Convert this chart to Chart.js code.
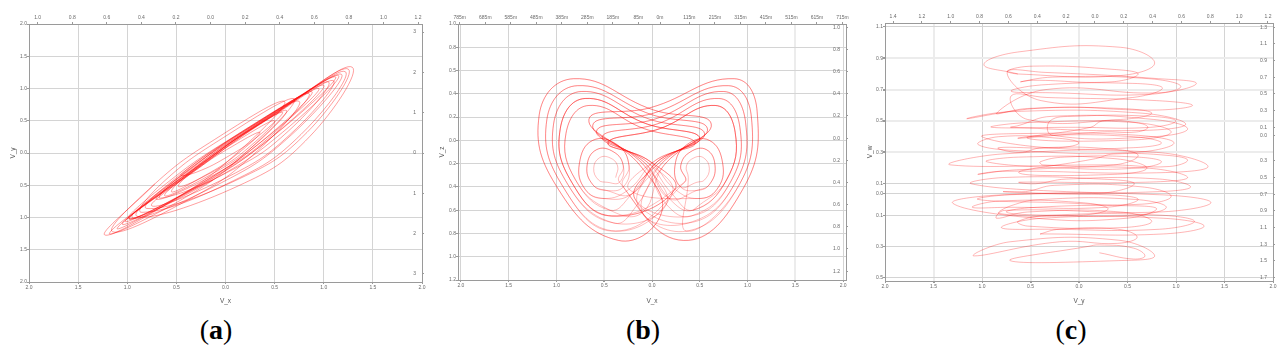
<!DOCTYPE html>
<html lang="en">
<head>
    <meta charset="UTF-8">
    <title>Phase portraits</title>
    <script src="https://cdn.jsdelivr.net/npm/chart.js@4.4.1/dist/chart.umd.min.js"></script>
    <style>
        body {
            margin: 0;
            width: 1288px;
            height: 358px;
            overflow: hidden;
            position: relative;
            background: #fff;
        }
        canvas.panel {
            position: absolute;
            top: 0;
        }
        .cap {
            position: absolute;
            top: 314px;
            width: 80px;
            text-align: center;
            font-family: "Liberation Serif", "DejaVu Serif", serif;
            font-size: 28px;
            line-height: 32px;
            color: #000;
        }
    </style>
</head>
<body>
    <canvas id="chartA" class="panel" width="430" height="305" style="left:0px"></canvas>
    <canvas id="chartB" class="panel" width="430" height="305" style="left:430px"></canvas>
    <canvas id="chartC" class="panel" width="428" height="305" style="left:860px"></canvas>
    <div class="cap" style="left:176px">(<b>a</b>)</div>
    <div class="cap" style="left:603px">(<b>b</b>)</div>
    <div class="cap" style="left:1031px">(<b>c</b>)</div>

    <script>
        // ---- panel (a): V_x vs V_y, long thin loops along the diagonal ----
        const trajA = [
            [-0.72,-0.48],
            [-1.23,-1.27],[-0.50,-0.70],[0.11,-0.01],[0.60,0.80],[-0.11,0.21],[-0.72,-0.48],
            [-1.15,-1.22],[-0.36,-0.71],[0.28,-0.03],[0.75,0.80],[0.04,0.21],[-0.60,-0.47],
            [-0.98,-1.02],[-0.13,-0.42],[0.58,0.32],[1.15,1.20],[0.38,0.52],[-0.33,-0.22],
            [-0.90,-0.98],[0.13,-0.51],[0.86,0.26],[1.29,1.33],[0.51,0.61],[-0.22,-0.16],
            [-1.18,-1.24],[-0.41,-0.69],[0.21,0.01],[0.70,0.84],[-0.02,0.24],[-0.64,-0.46],
            [-0.85,-0.92],[0.08,-0.43],[0.77,0.29],[1.22,1.26],[0.48,0.58],[-0.21,-0.14],
            [-0.48,-0.52],[-0.08,-0.25],[0.24,0.09],[0.50,0.50],[0.13,0.20],[-0.19,-0.14],
            [-0.75,-0.82],[0.05,-0.35],[0.66,0.29],[1.10,1.12],[0.43,0.52],[-0.18,-0.12],
            [-1.05,-1.10],[-0.25,-0.50],[0.44,0.21],[1.00,1.05],[0.25,0.40],[-0.44,-0.31],
            [-0.80,-0.86],[0.14,-0.40],[0.83,0.32],[1.25,1.30],[0.52,0.63],[-0.17,-0.09],
            [-0.62,-0.66],[-0.12,-0.31],[0.30,0.13],[0.62,0.66],[0.16,0.27],[-0.26,-0.17],
            [-0.55,-0.60],[-0.20,-0.34],[0.10,-0.04],[0.35,0.32],[0.01,0.05],[-0.29,-0.25],
            [-1.02,-1.06],[-0.28,-0.50],[0.36,0.17],[0.88,0.95],[0.19,0.34],[-0.45,-0.33],
            [-0.30,-0.30],[0.04,-0.04],[0.34,0.27],[0.58,0.63],[0.25,0.36],[-0.05,0.05],
            [-1.10,-1.16],[-0.32,-0.54],[0.37,0.18],[0.95,1.00],[0.21,0.34],[-0.48,-0.38],
            [-0.66,-0.70],[0.07,-0.26],[0.64,0.34],[1.05,1.10],[0.43,0.55],[-0.14,-0.05],
            [-0.98,-1.02],[-0.16,-0.41],[0.54,0.33],[1.12,1.18],[0.37,0.50],[-0.33,-0.24],
            [-0.70,-0.72],[-0.06,-0.29],[0.45,0.25],[0.85,0.92],[0.27,0.43],[-0.24,-0.11],
            [-0.95,-1.00],[-0.04,-0.46],[0.67,0.28],[1.18,1.22],[0.42,0.53],[-0.29,-0.21],
            [-0.98,-1.02],[-0.13,-0.42]
        ];
        const bottomTicksA = [-2, -1.5, -1, -0.5, 0, 0.5, 1, 1.5, 2];
        const bottomLabelsA = ['2.0','1.5','1.0','0.5','0.0','0.5','1.0','1.5','2.0'];
        const leftTicksA = [2, 1.5, 1, 0.5, 0, -0.5, -1, -1.5, -2];
        const leftLabelsA = ['2.0','1.5','1.0','0.5','0.0','0.5','1.0','1.5','2.0'];
        const topTicksA = [-1, -0.8, -0.6, -0.4, -0.2, 0, 0.2, 0.4, 0.6, 0.8, 1, 1.2];
        const topLabelsA = ['1.0','0.8','0.6','0.4','0.2','0.0','0.2','0.4','0.6','0.8','1.0','1.2'];
        const rightTicksA = [3, 2, 1, 0, -1, -2, -3];
        const rightLabelsA = ['3','2','1','0','1','2','3'];

        // ---- panel (b): V_x vs V_z ----
        // big turns: inner bottom, thin arm across the middle to a tip on the far side,
        // back over the top, down the outside, along the bottom
        const armL1 = [[-0.10,-0.62],[0.12,-0.22],[0.62,0.14],[0.02,0.26],[-0.82,0.53],[-1.18,0.22],[-0.98,-0.42],[-0.35,-0.86]];
        const armL2 = [[-0.15,-0.55],[0.10,-0.20],[0.58,0.10],[0.00,0.22],[-0.78,0.47],[-1.10,0.18],[-0.93,-0.40],[-0.38,-0.78]];
        const armL3 = [[-0.18,-0.50],[0.08,-0.19],[0.55,0.06],[-0.02,0.18],[-0.74,0.42],[-1.03,0.14],[-0.88,-0.38],[-0.40,-0.71]];
        const armL4 = [[-0.21,-0.46],[0.06,-0.18],[0.50,0.02],[-0.05,0.14],[-0.70,0.36],[-0.96,0.10],[-0.84,-0.36],[-0.42,-0.65]];
        const armL5 = [[-0.24,-0.42],[0.04,-0.17],[0.45,-0.02],[-0.08,0.10],[-0.66,0.30],[-0.90,0.06],[-0.80,-0.34],[-0.44,-0.60]];
        const armR1 = [[0.10,-0.62],[-0.12,-0.22],[-0.66,0.18],[-0.02,0.28],[0.86,0.53],[1.10,0.25],[0.95,-0.42],[0.33,-0.86]];
        const armR2 = [[0.15,-0.55],[-0.10,-0.20],[-0.62,0.13],[0.00,0.23],[0.80,0.47],[1.04,0.20],[0.90,-0.40],[0.36,-0.78]];
        const armR3 = [[0.18,-0.50],[-0.08,-0.19],[-0.58,0.08],[0.02,0.18],[0.75,0.42],[0.98,0.15],[0.86,-0.38],[0.38,-0.71]];
        const armR4 = [[0.21,-0.46],[-0.06,-0.18],[-0.52,0.03],[0.05,0.14],[0.70,0.36],[0.92,0.11],[0.82,-0.36],[0.41,-0.65]];
        const armR5 = [[0.24,-0.42],[-0.04,-0.17],[-0.46,-0.02],[0.08,0.10],[0.66,0.30],[0.87,0.07],[0.78,-0.34],[0.43,-0.60]];
        // small turns round the two eyes
        const eyeL1 = [[-0.30,-0.40],[-0.24,-0.22],[-0.36,-0.04],[-0.62,0.00],[-0.76,-0.20],[-0.70,-0.42],[-0.50,-0.50]];
        const eyeL2 = [[-0.34,-0.36],[-0.30,-0.22],[-0.40,-0.10],[-0.58,-0.08],[-0.68,-0.22],[-0.62,-0.38],[-0.48,-0.43]];
        const eyeL3 = [[-0.38,-0.32],[-0.36,-0.22],[-0.44,-0.15],[-0.55,-0.15],[-0.61,-0.24],[-0.56,-0.34],[-0.47,-0.36]];
        const eyeR1 = [[0.30,-0.40],[0.24,-0.22],[0.36,-0.04],[0.60,0.00],[0.74,-0.20],[0.68,-0.42],[0.48,-0.50]];
        const eyeR2 = [[0.34,-0.36],[0.30,-0.22],[0.40,-0.10],[0.57,-0.08],[0.66,-0.22],[0.60,-0.38],[0.47,-0.43]];
        const eyeR3 = [[0.38,-0.32],[0.36,-0.22],[0.44,-0.15],[0.54,-0.15],[0.60,-0.24],[0.55,-0.34],[0.47,-0.36]];
        // order in which the trajectory makes its turns
        const trajB = [].concat(
            eyeL3, eyeL2, eyeL1, armL5, armL4, eyeR2, eyeR1, armR5, armR3, armL3,
            armL2, armR4, armR2, eyeR3, eyeR1, armL5, armL1, armR1, eyeL2, armL4,
            armR5, armR4, armL3, armR2, armL2, eyeR2, armR3, armL1, armR1, eyeL1,
            armL4, armR5
        );
        const bottomTicksB = [-2, -1.5, -1, -0.5, 0, 0.5, 1, 1.5, 2];
        const bottomLabelsB = ['2.0','1.5','1.0','0.5','0.0','0.5','1.0','1.5','2.0'];
        const leftTicksB = [1, 0.8, 0.6, 0.4, 0.2, 0, -0.2, -0.4, -0.6, -0.8, -1, -1.2];
        const leftLabelsB = ['1.0','0.8','0.5','0.4','0.2','0.0','0.2','0.4','0.6','0.8','1.0','1.2'];
        const topTicksB = [-785, -685, -585, -485, -385, -285, -185, -85, 0, 115, 215, 315, 415, 515, 615, 715];
        const topLabelsB = ['785m','685m','585m','485m','385m','285m','185m','85m','0m','115m','215m','315m','415m','515m','615m','715m'];
        const rightTicksB = [1, 0.8, 0.6, 0.4, 0.2, 0, -0.2, -0.4, -0.6, -0.8, -1, -1.2];
        const rightLabelsB = ['1.0','0.8','0.6','0.4','0.2','0.0','0.2','0.4','0.6','0.8','1.0','1.2'];

        // ---- panel (c): V_y vs V_w, stacked horizontal loops ----
        const trajC = [
            [-0.63,0.80],
            [-0.98,0.86],[-0.63,0.94],[0.43,0.97],[0.78,0.87],[0.43,0.79],[-0.63,0.80],
            [-0.74,0.82],[-0.47,0.85],[0.34,0.83],[0.61,0.80],[0.34,0.75],[-0.47,0.76],
            [-0.60,0.75],[-0.27,0.78],[0.72,0.77],[1.05,0.72],[0.72,0.67],[-0.27,0.68],
            [-0.70,0.69],[-0.39,0.73],[0.55,0.74],[0.86,0.71],[0.55,0.65],[-0.39,0.63],
            [-0.74,0.81],[-0.35,0.81],[0.82,0.77],[1.21,0.74],[0.82,0.68],[-0.35,0.70],
            [-0.85,0.55],[-0.53,0.58],[0.43,0.58],[0.75,0.55],[0.43,0.51],[-0.53,0.51],
            [-0.70,0.66],[-0.33,0.65],[0.80,0.63],[1.17,0.60],[0.80,0.57],[-0.33,0.585],
            [-1.15,0.515],[-0.70,0.56],[0.65,0.55],[1.10,0.48],[0.65,0.44],[-0.70,0.46],
            [-0.63,0.47],[-0.28,0.53],[0.77,0.51],[1.12,0.45],[0.77,0.40],[-0.28,0.41],
            [-0.30,0.50],[-0.04,0.53],[0.74,0.53],[1.00,0.50],[0.74,0.46],[-0.04,0.46],
            [-0.90,0.46],[-0.53,0.49],[0.58,0.49],[0.95,0.43],[0.58,0.38],[-0.53,0.39],
            [0.12,0.46],[0.24,0.50],[0.59,0.49],[0.71,0.46],[0.59,0.43],[0.24,0.43],
            [-0.62,0.39],[-0.33,0.41],[0.56,0.40],[0.85,0.36],[0.56,0.33],[-0.33,0.33],
            [-1.00,0.40],[-0.60,0.42],[0.58,0.41],[0.98,0.36],[0.58,0.30],[-0.60,0.31],
            [-1.04,0.35],[-0.83,0.40],[-0.21,0.39],[0.00,0.36],[-0.21,0.33],[-0.83,0.33],
            [-0.62,0.30],[-0.37,0.33],[0.36,0.32],[0.61,0.28],[0.36,0.22],[-0.37,0.22],
            [-0.40,0.24],[-0.15,0.27],[0.60,0.27],[0.85,0.24],[0.60,0.20],[-0.15,0.20],
            [-0.95,0.24],[-0.62,0.27],[0.37,0.26],[0.70,0.20],[0.37,0.16],[-0.62,0.17],
            [0.17,0.26],[0.36,0.29],[0.93,0.28],[1.12,0.25],[0.93,0.21],[0.36,0.22],
            [-1.32,0.22],[-0.79,0.29],[0.80,0.30],[1.33,0.21],[0.80,0.17],[-0.79,0.18],
            [-1.04,0.16],[-0.61,0.19],[0.69,0.20],[1.12,0.14],[0.69,0.11],[-0.61,0.11],
            [-0.45,0.10],[-0.13,0.13],[0.83,0.13],[1.15,0.08],[0.83,0.05],[-0.13,0.05],
            [-1.11,0.10],[-0.77,0.14],[0.23,0.13],[0.57,0.10],[0.23,0.04],[-0.77,0.05],
            [-0.55,0.05],[-0.25,0.09],[0.65,0.08],[0.95,0.02],[0.65,-0.03],[-0.25,-0.02],
            [-1.04,0.00],[-0.71,0.03],[0.28,0.03],[0.61,0.00],[0.28,-0.05],[-0.71,-0.05],
            [-1.10,-0.05],[-0.82,-0.01],[0.02,-0.02],[0.30,-0.06],[0.02,-0.10],[-0.82,-0.09],
            [-0.70,-0.04],[-0.38,0.00],[0.58,0.00],[0.90,-0.05],[0.58,-0.10],[-0.38,-0.10],
            [-0.75,-0.08],[-0.44,-0.05],[0.49,-0.04],[0.80,-0.06],[0.49,-0.12],[-0.44,-0.12],
            [-1.30,-0.025],[-0.77,0.03],[0.83,0.03],[1.36,-0.02],[0.83,-0.08],[-0.77,-0.07],
            [-0.85,-0.12],[-0.53,-0.08],[0.43,-0.08],[0.75,-0.14],[0.43,-0.18],[-0.53,-0.17],
            [-0.63,-0.14],[-0.27,-0.10],[0.83,-0.10],[1.19,-0.14],[0.83,-0.19],[-0.27,-0.19],
            [-0.80,-0.18],[-0.38,-0.12],[0.87,-0.12],[1.29,-0.17],[0.87,-0.22],[-0.38,-0.22],
            [-0.40,-0.22],[-0.20,-0.19],[0.40,-0.19],[0.60,-0.24],[0.40,-0.28],[-0.20,-0.27],
            [-1.08,-0.36],[-0.71,-0.27],[0.41,-0.26],[0.78,-0.36],[0.41,-0.39],[-0.71,-0.39],
            [0.09,-0.30],[0.21,-0.29],[0.56,-0.31],[0.68,-0.36],[0.56,-0.38],[0.21,-0.34]
        ];
        const bottomTicksC = [-2, -1.5, -1, -0.5, 0, 0.5, 1, 1.5, 2];
        const bottomLabelsC = ['2.0','1.5','1.0','0.5','0.0','0.5','1.0','1.5','2.0'];
        const leftTicksC = [1.1, 0.9, 0.7, 0.5, 0.3, 0.1, 0.04, -0.1, -0.3, -0.5];
        const leftLabelsC = ['1.1','0.9','0.7','0.5','0.3','0.1','0.0','0.1','0.3','0.5'];
        const topTicksC = [-1.4, -1.2, -1, -0.8, -0.6, -0.4, -0.2, 0, 0.2, 0.4, 0.6, 0.8, 1, 1.2];
        const topLabelsC = ['1.4','1.2','1.0','0.8','0.6','0.4','0.2','0.0','0.2','0.4','0.6','0.8','1.0','1.2'];
        const rightTicksC = [1.3, 1.1, 0.9, 0.7, 0.5, 0.3, 0.1, 0, -0.3, -0.5, -0.7, -0.9, -1.1, -1.3, -1.5, -1.7];
        const rightLabelsC = ['1.3','1.1','0.9','0.7','0.5','0.3','0.1','0.0','0.3','0.5','0.7','0.9','1.1','1.3','1.5','1.7'];

        const tickFont = { family: 'Liberation Sans', size: 5 };
        const titleFont = { family: 'Liberation Sans', size: 6.5 };

        // one axis; size = thickness of the axis box in pixels
        function axis(position, min, max, ticks, labels, size, extra) {
            extra = extra || {};
            const horizontal = position === 'top' || position === 'bottom';
            const soft = extra.soft || [];
            return {
                type: 'linear',
                position: position,
                min: min,
                max: max,
                afterBuildTicks: s => { s.ticks = ticks.map(v => ({ value: v })); },
                afterFit: s => { if (horizontal) { s.height = size; } else { s.width = size; } },
                ticks: {
                    callback: (v, i) => labels[i],
                    font: tickFont,
                    color: '#6a6a6a',
                    padding: extra.padding !== undefined ? extra.padding : 1,
                    autoSkip: false,
                    maxRotation: 0,
                    mirror: !!extra.mirror
                },
                grid: {
                    drawOnChartArea: !!extra.grid,
                    color: c => (c.tick && soft.includes(c.tick.value)) ? '#ececec' : '#d4d4d4',
                    lineWidth: c => (c.tick && soft.includes(c.tick.value)) ? 2 : 1,
                    tickLength: 2,
                    tickColor: '#9a9a9a'
                },
                border: { color: '#9a9a9a', width: 1 },
                title: extra.title ? {
                    display: true,
                    text: extra.title,
                    font: titleFont,
                    color: '#555',
                    padding: { top: extra.titlePad, bottom: 0 }
                } : { display: false }
            };
        }

        function makeChart(id, traj, scales, color, width) {
            new Chart(document.getElementById(id), {
                type: 'scatter',
                data: {
                    datasets: [{
                        data: traj.map(p => ({ x: p[0], y: p[1] })),
                        showLine: true,
                        borderColor: color,
                        borderWidth: width,
                        pointRadius: 0,
                        tension: 0.45,
                        fill: false
                    }]
                },
                options: {
                    responsive: false,
                    animation: false,
                    devicePixelRatio: 1,
                    layout: { padding: 0, autoPadding: false },
                    plugins: { legend: { display: false }, tooltip: { enabled: false } },
                    scales: scales
                }
            });
        }

        makeChart('chartA', trajA, {
            x: axis('bottom', -2, 2, bottomTicksA, bottomLabelsA, 23, { grid: true, title: 'V_x', titlePad: 6 }),
            x2: axis('top', -1.05, 1.223, topTicksA, topLabelsA, 24),
            y: axis('left', -2, 2, leftTicksA, leftLabelsA, 29, { grid: true, title: 'V_y', titlePad: 9, padding: 0 }),
            y2: axis('right', -3.2, 3.2, rightTicksA, rightLabelsA, 8, { mirror: true, padding: -6 })
        }, 'rgba(255, 0, 0, 0.55)', 0.7);

        makeChart('chartB', trajB, {
            x: axis('bottom', -2.03, 2.03, bottomTicksB, bottomLabelsB, 25, { grid: true, soft: [-0.5, 1.5], title: 'V_x', titlePad: 6 }),
            x2: axis('top', -792, 729, topTicksB, topLabelsB, 24),
            y: axis('left', -1.2, 1.0, leftTicksB, leftLabelsB, 28, { grid: true, title: 'V_z', titlePad: 8, padding: 0 }),
            y2: axis('right', -1.28, 1.03, rightTicksB, rightLabelsB, 14, { mirror: true, padding: -6 })
        }, 'rgba(255, 0, 0, 0.45)', 0.6);

        makeChart('chartC', trajC, {
            x: axis('bottom', -2, 2, bottomTicksC, bottomLabelsC, 24, { grid: true, soft: [-1.5, -0.5, 0], title: 'V_y', titlePad: 6 }),
            x2: axis('top', -1.456, 1.235, topTicksC, topLabelsC, 23),
            y: axis('left', -0.52, 1.125, leftTicksC, leftLabelsC, 25, { grid: true, soft: [0.9, 0.7, 0.5, 0.3], title: 'V_w', titlePad: 6, padding: 0 }),
            y2: axis('right', -1.74, 1.35, rightTicksC, rightLabelsC, 15, { mirror: true, padding: -6 })
        }, 'rgba(255, 0, 0, 0.42)', 0.7);
    </script>
</body>
</html>
